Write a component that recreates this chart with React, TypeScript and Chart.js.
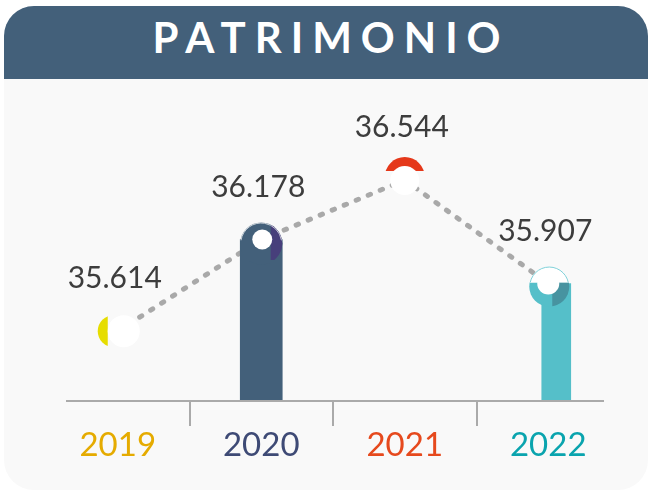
import React, { useEffect, useRef } from 'react';
import { Chart, registerables } from 'chart.js';

Chart.register(...registerables);

const categories = ['2019', '2020', '2021', '2022'];
const values = [35.614, 36.178, 36.544, 35.907];
const valueLabels = ['35.614', '36.178', '36.544', '35.907'];
const bar2020 = [null, 36.178, null, null];
const bar2022 = [null, null, null, 35.907];
const yearColors = ['#e5ab00', '#3e4a75', '#e6491d', '#0aa4ae'];
const Y_MIN = 35.19;
const Y_MAX = 37.037;

const decorPlugin = {
  id: 'decor',
  afterDatasetsUpdate(chart: any) {
    const meta = chart.getDatasetMeta(2);
    const el = meta.data[3];
    if (el) el.x += 8;
  },
  afterDatasetsDraw(chart: any) {
    const ctx: CanvasRenderingContext2D = chart.ctx;
    const area = chart.chartArea;
    ctx.save();
    // axis line
    ctx.strokeStyle = '#aaaaaa';
    ctx.lineWidth = 2;
    ctx.beginPath();
    ctx.moveTo(area.left + 20, area.bottom + 1);
    ctx.lineTo(area.right - 16, area.bottom + 1);
    ctx.stroke();

    const disk = (x: number, y: number, r: number, color: string) => {
      ctx.beginPath();
      ctx.arc(x, y, r, 0, Math.PI * 2);
      ctx.fillStyle = color;
      ctx.fill();
    };
    const clipRect = (x0: number, y0: number, x1: number, y1: number) => {
      ctx.save();
      ctx.beginPath();
      ctx.rect(x0, y0, x1 - x0, y1 - y0);
      ctx.clip();
    };

    const pts = chart.getDatasetMeta(0).data;
    // 2019
    let p = pts[0];
    clipRect(0, 0, p.x - 10, 1000);
    disk(p.x - 4, p.y, 16, '#e6dd00');
    ctx.restore();
    disk(p.x + 6, p.y, 16, '#ffffff');

    // 2020
    p = pts[1];
    let cx = p.x, cy = p.y + 4;
    disk(cx, cy, 21, '#43607a');
    clipRect(cx + 9.5, 0, 2000, p.y + 20.5);
    disk(cx, cy, 21, '#473f7b');
    ctx.restore();
    ctx.beginPath();
    ctx.arc(cx, cy, 20.5, Math.PI * 1.05, Math.PI * 1.95);
    ctx.strokeStyle = 'rgba(255,255,255,0.7)';
    ctx.lineWidth = 1;
    ctx.stroke();
    disk(p.x + 1, p.y, 10, '#ffffff');

    // 2021
    p = pts[2];
    clipRect(0, 0, 2000, p.y - 9);
    disk(p.x, p.y - 3, 20, '#e5381a');
    ctx.restore();
    disk(p.x, p.y + 0.5, 14.5, '#ffffff');

    // 2022
    p = pts[3];
    cx = p.x + 1;
    cy = p.y + 3;
    clipRect(0, p.y - 1, 2000, 2000);
    disk(cx, cy, 20, '#55bfc9');
    ctx.restore();
    clipRect(p.x + 4, p.y - 1, 2000, 2000);
    disk(cx, cy, 20, '#4793a0');
    ctx.restore();
    clipRect(0, 0, 2000, p.y - 1);
    disk(cx, cy, 20, '#ffffff');
    ctx.beginPath();
    ctx.arc(cx, cy, 19.5, Math.PI, Math.PI * 2);
    ctx.strokeStyle = '#7fd0d8';
    ctx.lineWidth = 1;
    ctx.stroke();
    ctx.restore();
    disk(p.x, p.y, 11, '#ffffff');

    // value labels
    ctx.font = '400 30px Lato';
    ctx.fillStyle = '#3d3d3d';
    ctx.textAlign = 'center';
    ctx.textBaseline = 'alphabetic';
    pts.forEach((pt: any, i: number) => {
      ctx.fillText(valueLabels[i], pt.x - 3, pt.y - 43);
    });
    ctx.restore();
  },
};

export default function App() {
  const ref = useRef<HTMLCanvasElement>(null);

  useEffect(() => {
    if (!ref.current) return;
    const chart = new Chart(ref.current, {
      data: {
        labels: categories,
        datasets: [
          {
            type: 'line',
            data: values,
            borderColor: '#a9a9a9',
            borderWidth: 5,
            borderDash: [2.5, 10.5],
            borderCapStyle: 'round',
            pointRadius: 0,
            fill: false,
            tension: 0,
            order: 3,
          } as any,
          {
            type: 'bar',
            data: bar2020,
            backgroundColor: '#43607a',
            barThickness: 42,
            grouped: false,
            base: Y_MIN,
            order: 1,
          } as any,
          {
            type: 'bar',
            data: bar2022,
            backgroundColor: '#55bfc9',
            barThickness: 29,
            grouped: false,
            base: Y_MIN,
            order: 1,
          } as any,
        ],
      },
      options: {
        animation: false,
        responsive: false,
        devicePixelRatio: 1,
        layout: { padding: { top: 100, left: 46, right: 30, bottom: 0 } },
        plugins: { legend: { display: false }, tooltip: { enabled: false } },
        scales: {
          x: {
            offset: true,
            border: { display: false },
            grid: {
              offset: true,
              drawOnChartArea: false,
              drawTicks: true,
              tickLength: 26,
              lineWidth: 2,
              color: (c: any) => (c.index >= 1 && c.index <= 3 ? '#aaaaaa' : 'rgba(0,0,0,0)'),
            },
            ticks: {
              color: yearColors,
              font: { family: 'Lato', size: 33 },
              padding: 0,
              maxRotation: 0,
            },
            afterFit: (axis: any) => {
              axis.height = 92;
            },
          },
          y: {
            display: false,
            min: Y_MIN,
            max: Y_MAX,
          },
        },
      },
      plugins: [decorPlugin],
    });
    return () => chart.destroy();
  }, []);

  return (
    <div style={{ position: 'absolute', left: 0, top: 0, width: 650, height: 492, background: '#ffffff', overflow: 'hidden' }}>
      <div style={{ position: 'absolute', left: 4, top: 6, width: 644, height: 484, background: '#f9f9f9', borderRadius: 30 }} />
      <div style={{ position: 'absolute', left: 4, top: 6, width: 644, height: 73, background: '#43607a', borderRadius: '30px 30px 0 0' }} />
      <div
        style={{
          position: 'absolute',
          left: 0,
          top: 16,
          width: 644,
          textAlign: 'center',
          color: '#ffffff',
          fontFamily: 'Lato, sans-serif',
          fontWeight: 700,
          fontSize: 42,
          lineHeight: '42px',
          letterSpacing: 9,
          paddingLeft: 9,
        }}
      >
        PATRIMONIO
      </div>
      <canvas ref={ref} width={650} height={492} style={{ position: 'absolute', left: 0, top: 0 }} />
    </div>
  );
}
